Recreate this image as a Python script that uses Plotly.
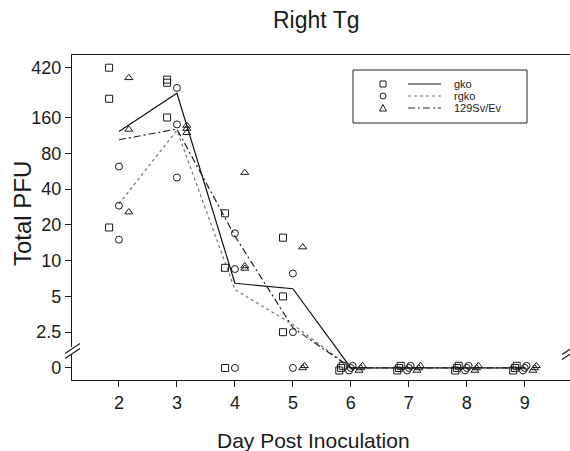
import plotly.graph_objects as go
import numpy as np

# ---------------- data ----------------
days = [2, 3, 4, 5, 6, 7, 8, 9]
# three animals per group per day (Total PFU); 0 = below detection
gko_vals = [[420, 230, 19], [333, 314, 160], [25, 8.7, 0], [15.6, 5, 2.5],
            [0, 0, 0], [0, 0, 0], [0, 0, 0], [0, 0, 0]]
rgko_vals = [[62, 29, 15], [284, 140, 50], [17, 8.5, 0], [7.8, 2.5, 0],
             [0, 0, 0], [0, 0, 0], [0, 0, 0], [0, 0, 0]]
sv_vals = [[345, 127, 25.6], [137, 129, 119], [55, 9, 8.6], [13, 0, 0],
           [0, 0, 0], [0, 0, 0], [0, 0, 0], [0, 0, 0]]
# group (geometric) means drawn as lines
gko_mean = [122, 256, 6.45, 5.8, 0, 0, 0, 0]
rgko_mean = [30, 125, 5.7, 2.9, 0, 0, 0, 0]
sv_mean = [104, 128, 16.1, 2.73, 0, 0, 0, 0]

series_names = ["gko", "rgko", "129Sv/Ev"]
y_tick_vals = [0, 2.5, 5, 10, 20, 40, 80, 160, 420]
y_tick_text = ["0", "2.5", "5", "10", "20", "40", "80", "160", "420"]
x_tick_vals = days

# ---------------- styling ----------------
ZERO_POS = 1.25          # where "0" sits on the broken log axis
W, H = 570, 451
ML, MR, MT, MB = 72, 0, 55, 71
PW, PH = W - ML - MR, H - MT - MB
FONT = "Liberation Sans, Arial, sans-serif"
INK = "#1a1a1a"

sym = ["square-open", "circle-open", "triangle-up-open"]
x_off = [-0.17, 0.0, 0.17]
zero_dx = [-0.03, 0.03, 0.0]
zero_dl = [-0.07, 0.06, 0.0]
line_style = [dict(color="#111111", width=1.2, dash="solid"),
              dict(color="#777777", width=1.2, dash="dot"),
              dict(color="#222222", width=1.2, dash="7px,3px,2px,3px")]


def ypos(v):
    return v if v > 0 else ZERO_POS


fig = go.Figure()

all_vals = [gko_vals, rgko_vals, sv_vals]
all_means = [gko_mean, rgko_mean, sv_mean]

for s, (vals, means) in enumerate(zip(all_vals, all_means)):
    fig.add_trace(go.Scatter(
        x=days, y=[ypos(v) for v in means], mode="lines",
        line=line_style[s], name=series_names[s], showlegend=False,
        hoverinfo="skip"))

for s, vals in enumerate(all_vals):
    xs, ys = [], []
    for d, triple in zip(days, vals):
        for k, v in enumerate(triple):
            if v > 0:
                xs.append(d + x_off[s])
                ys.append(v)
            else:
                xs.append(d + x_off[s] + zero_dx[k])
                ys.append(ZERO_POS * 2 ** zero_dl[k])
    fig.add_trace(go.Scatter(
        x=xs, y=ys, mode="markers", name=series_names[s], showlegend=False,
        marker=dict(symbol=sym[s], size=7, color=INK, line=dict(width=1, color=INK))))


def px(xp):
    return (xp - ML) / PW


def py(yp):
    return (H - MB - yp) / PH


shapes = []
annotations = []

# legend box (manual, to match the symbol / line / label columns)
shapes.append(dict(type="rect", xref="paper", yref="paper",
                   x0=px(353), x1=px(527), y0=py(123), y1=py(70),
                   line=dict(color="#222222", width=1), fillcolor="white", layer="above"))
rows = [84, 96, 108]
for s, ry in enumerate(rows):
    cx = 383
    if s == 0:
        shapes.append(dict(type="rect", xref="paper", yref="paper",
                           x0=px(cx - 3), x1=px(cx + 3), y0=py(ry + 3), y1=py(ry - 3),
                           line=dict(color=INK, width=1), layer="above"))
    elif s == 1:
        shapes.append(dict(type="circle", xref="paper", yref="paper",
                           x0=px(cx - 3), x1=px(cx + 3), y0=py(ry + 3), y1=py(ry - 3),
                           line=dict(color=INK, width=1), layer="above"))
    else:
        path = "M {a},{b} L {c},{d} L {e},{f} Z".format(
            a=px(cx - 3.5), b=py(ry + 3), c=px(cx + 3.5), d=py(ry + 3), e=px(cx), f=py(ry - 3.5))
        shapes.append(dict(type="path", xref="paper", yref="paper", path=path,
                           line=dict(color=INK, width=1), layer="above"))
    shapes.append(dict(type="line", xref="paper", yref="paper",
                       x0=px(408), x1=px(441), y0=py(ry), y1=py(ry),
                       line=line_style[s], layer="above"))
    annotations.append(dict(xref="paper", yref="paper", x=px(452), y=py(ry),
                            text=series_names[s], showarrow=False, xanchor="left",
                            yanchor="middle", font=dict(family=FONT, size=11, color=INK)))

# axis break marks
shapes.append(dict(type="rect", xref="paper", yref="paper",
                   x0=px(69), x1=px(76), y0=py(354), y1=py(347),
                   line=dict(width=0), fillcolor="white", layer="above"))
for dy in (-2.5, 2.5):
    shapes.append(dict(type="line", xref="paper", yref="paper",
                       x0=px(65), x1=px(80), y0=py(356 + dy), y1=py(346 + dy),
                       line=dict(color=INK, width=1.2), layer="above"))
for dy in (-2.5, 2.5):
    shapes.append(dict(type="line", xref="paper", yref="paper",
                       x0=px(562), x1=px(574), y0=py(357 + dy), y1=py(349 + dy),
                       line=dict(color=INK, width=1.2), layer="above"))

annotations.append(dict(xref="paper", yref="paper", x=px(22), y=py(214),
                        xanchor="center", yanchor="middle",
                        text="Total PFU", textangle=-90, showarrow=False,
                        font=dict(family=FONT, size=24, color=INK)))
annotations.append(dict(xref="paper", yref="paper", x=px(313), y=py(440),
                        xanchor="center", yanchor="middle",
                        text="Day Post Inoculation", showarrow=False,
                        font=dict(family=FONT, size=21, color=INK)))
annotations.append(dict(xref="paper", yref="paper", x=px(316), y=py(20),
                        xanchor="center", yanchor="middle",
                        text="Right Tg", showarrow=False,
                        font=dict(family=FONT, size=23, color=INK)))

fig.update_layout(
    width=W, height=H,
    margin=dict(l=ML, r=MR, t=MT, b=MB),
    paper_bgcolor="white", plot_bgcolor="white",
    showlegend=False,
    shapes=shapes, annotations=annotations,
    font=dict(family=FONT, color=INK),
    xaxis=dict(range=[1.19, 9.78], tickmode="array", tickvals=x_tick_vals,
               ticks="outside", ticklen=6, tickwidth=1, tickcolor=INK,
               showline=True, linecolor=INK, linewidth=1.2, mirror=True,
               showgrid=False, zeroline=False,
               tickfont=dict(family=FONT, size=18, color=INK)),
    yaxis=dict(type="log", range=[np.log10(0.99), np.log10(537)],
               tickmode="array",
               tickvals=[ypos(v) for v in y_tick_vals], ticktext=y_tick_text,
               ticks="outside", ticklen=6, tickwidth=1, tickcolor=INK,
               showline=True, linecolor=INK, linewidth=1.2,
               showgrid=False, zeroline=False,
               tickfont=dict(family=FONT, size=18, color=INK)),
)

fig.write_html("out.html", config={"displayModeBar": False})

# remove the browser's default 8px page margin so the figure fills the window
with open("out.html", "r", encoding="utf-8") as f:
    html = f.read()
html = html.replace("<body>", '<body style="margin:0;padding:0;overflow:hidden;">', 1)
with open("out.html", "w", encoding="utf-8") as f:
    f.write(html)
